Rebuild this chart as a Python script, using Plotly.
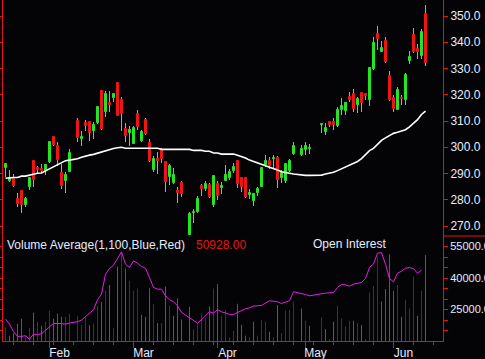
import plotly.graph_objects as go

# ---------------- data ----------------
opens = [
    292.2, 287.3, 287.9, 280.3, 283.3, 278.0, 284.9, 294.8, 292.1, 291.7,
    290.8, 294.5, 303.9, 300.6, 290.2, 287.1, 290.7, None, 310.0, 303.3,
    309.1, 309.6, 306.3, 309.2, 321.4, 313.5, 316.7, 318.9, 324.5, 318.0,
    306.8, 305.3, 301.4, 312.7, 302.4, 310.4, 301.5, 291.3, 295.5, 299.1,
    294.4, 288.8, 286.4, 283.3, 286.4, None, 266.6, 274.8, 275.2, 285.2,
    284.1, 285.5, 278.0, 286.0, 284.6, 287.3, 288.3, 290.8, 294.8, 288.3,
    288.3, 281.7, 279.6, 282.7, 285.0, 293.1, 294.8, 295.5, 295.9, 288.3,
    287.3, 291.1, 297.4, None, 297.1, 299.0, 299.2, None, None, 308.6,
    305.9, 309.6, 309.5, 308.1, 314.2, 313.8, 319.1, 320.2, 316.1, 320.6,
    320.2, 318.0, 329.8, 343.3, 336.4, 340.5, 327.1, 318.9, 314.2, 318.6,
    318.0, 332.9, 342.8, 337.3, 334.9, 350.8]
highs = [
    294.0, 291.3, 289.8, 282.5, 283.5, 281.0, 288.6, 295.0, 292.9, 293.6,
    293.6, 302.3, 304.3, 302.1, 293.6, 290.7, 299.2, None, 311.3, 306.2,
    310.4, 310.1, 309.7, 315.5, 322.0, 321.5, 321.5, 320.8, 324.8, 319.3,
    309.4, 308.1, 308.1, 314.2, 306.5, 311.3, 303.3, 296.7, 298.1, 299.8,
    294.6, 293.5, 292.0, 285.0, 287.1, None, 275.5, 276.5, 281.4, 286.0,
    287.3, 286.4, 289.4, 287.3, 286.9, 293.2, 291.6, 293.9, 295.0, 288.5,
    288.5, 284.0, 282.7, 284.7, 292.3, 297.0, 296.4, 297.0, 296.7, 291.3,
    294.0, 295.5, 302.1, None, 300.8, 302.1, 301.2, None, None, 309.4,
    309.1, 310.0, 311.0, 315.2, 318.6, 317.4, 321.2, 322.1, 319.3, 320.8,
    320.8, 330.7, 341.9, 346.2, 340.5, 341.9, 329.2, 319.9, 322.8, 319.9,
    328.4, 336.8, 345.3, 339.3, 344.9, 354.2]
lows = [
    288.5, 286.9, 284.8, 277.3, 275.1, 277.3, 283.7, 285.0, 290.1, 290.3,
    289.4, 294.0, 300.5, 292.9, 284.1, 282.4, 290.5, None, 302.1, 300.6,
    306.3, 302.5, 303.1, 308.8, 306.5, 311.6, 313.5, 317.4, 311.8, 306.3,
    302.1, 300.6, 301.2, 306.6, 302.0, 304.5, 294.5, 290.7, 289.8, 293.9,
    283.1, 285.6, 286.0, 278.6, 280.9, None, 266.4, 271.0, 275.0, 281.4,
    283.4, 280.6, 277.4, 279.9, 282.2, 287.0, 287.5, 290.3, 284.4, 283.1,
    280.6, 280.2, 277.6, 281.4, 284.7, 292.5, 291.6, 292.0, 284.4, 286.3,
    286.3, 290.5, 297.0, None, 296.7, 297.0, 297.4, None, None, 305.5,
    304.7, 307.8, 306.6, 307.8, 312.3, 312.3, 317.4, 313.5, 313.2, 313.4,
    318.0, 315.7, 329.4, 337.1, 336.2, 332.2, 317.6, 313.5, 314.2, 316.1,
    316.1, 331.7, 336.0, 333.5, 333.5, 331.1]
closes = [
    293.6, 288.2, 285.2, 278.5, 278.0, 280.3, 288.4, 287.6, 291.3, 290.8,
    293.2, 302.1, 300.9, 295.1, 285.3, 289.4, 297.9, None, 303.6, 304.0,
    308.2, 305.5, 308.5, 315.3, 307.0, 320.4, 316.2, 320.3, 312.0, 312.5,
    304.4, 306.6, 307.4, 307.6, 305.8, 305.0, 294.9, 295.5, 294.8, 295.6,
    286.9, 292.9, 289.4, 282.7, 282.3, None, 274.6, 275.2, 280.3, 284.1,
    286.0, 281.0, 289.0, 281.5, 285.2, 289.3, 290.7, 292.4, 286.0, 284.7,
    281.2, 282.5, 282.2, 284.1, 292.1, 294.8, 292.9, 295.9, 287.4, 290.2,
    293.5, 294.8, 300.5, None, 299.3, 300.6, 299.8, None, None, 308.8,
    307.4, 308.5, 308.5, 314.2, 315.7, 316.7, 318.0, 314.6, 318.3, 316.7,
    319.6, 330.1, 339.8, 341.2, 337.8, 332.6, 318.0, 314.6, 321.8, 318.4,
    327.5, 334.3, 336.4, 336.2, 344.0, 332.0]
moving_avg = [
    288.2, 288.4, 288.5, 288.5, 289.0, 289.0, 289.4, 289.9, 290.1, 290.2,
    291.0, 291.7, 292.5, 293.3, 294.4, 294.9, 295.1, None, 295.6, 296.2,
    296.7, 297.0, 297.3, 297.8, 298.1, 298.5, 299.0, 299.5, 299.8, 300.0,
    299.6, 299.6, 299.6, 299.6, 299.6, 299.6, 299.6, 299.6, 299.6, 299.2,
    299.2, 299.2, 299.2, 299.2, 299.2, None, 299.2, 298.8, 298.8, 298.8,
    298.5, 298.5, 297.8, 297.8, 297.4, 297.4, 297.4, 297.4, 297.0, 296.5,
    295.9, 295.1, 294.5, 294.1, 293.6, 293.0, 292.4, 291.7, 291.3, 290.7,
    290.5, 290.1, 289.8, None, 289.3, 289.3, 289.3, None, None, 289.4,
    289.8, 290.1, 290.5, 291.1, 291.8, 292.5, 293.0, 293.7, 294.6, 295.7,
    297.3, 298.7, 299.6, 301.2, 302.6, 303.6, 304.5, 305.3, 305.7, 306.2,
    306.7, 307.8, 309.2, 310.5, 312.5, 313.8]
volume = [
    16480, 12530, 13790, 18220, 20600, 12500, 16330, 23450, 19180, 17280,
    19180, 24400, 20600, 22970, 21550, 21550, 22970, None, 22020, 17590,
    21230, 17590, 18380, 26770, 28670, 33900, 36590, 16170, 45450, 52420,
    44500, 38650, 33900, 35000, 22500, 21550, 35160, 27560, 18540, 18540,
    35950, 26770, 22020, 30420, 20280, None, 26300, 15690, 18070, 22970,
    20920, 26460, 35000, 37060, 22020, 24870, 11740, 14900, 27720, 17750,
    12530, 11740, 19180, 12530, 20130, 19180, 14430, 11740, 27090, 13800,
    24400, 24870, 28670, None, 25510, 19650, 17280, None, None, 21230,
    15690, 10940, 19180, 26770, 20760, 16960, 19650, 19650, 18540, 17590,
    10940, 33110, 36270, 50200, 28830, 34690, 51310, 33900, 36750, 21550,
    29620, 25510, 40700, 22020, 33900, 50928]
open_interest = [
    20440, 18070, 14430, 12210, 12210, 12530, 10780, 13320, 13000, 13480,
    15060, 16960, 18380, 18380, 18070, 18070, 18540, None, 19170, 19970,
    21710, 23130, 24870, 29620, 32320, 41800, 44500, 46090, 48940, 52420,
    46560, 44980, 48150, 47040, 45450, 44660, 40230, 35480, 34690, 34690,
    31520, 29620, 28670, 26770, 23610, None, 21230, 19650, 18540, 20130,
    22020, 23920, 23290, 24870, 23920, 23290, 22660, 22660, 23610, 24400,
    25350, 25820, 26620, 26770, 26930, 28040, 29150, 28990, 28670, 27880,
    28670, 29150, 33420, None, 32790, 32160, 31520, None, None, 32630,
    32790, 32950, 33110, 35480, 36910, 36750, 36110, 37060, 37540, 37850,
    39750, 44980, 46720, 51790, 52100, 46560, 39750, 38170, 42290, 43240,
    44660, 44980, 44500, 42290, 43710, None]

month_labels = ["Feb", "Mar", "Apr", "May", "Jun"]
month_index = [11, 32, 53, 75, 97]
price_ticks = [270, 280, 290, 300, 310, 320, 330, 340, 350]
vol_ticks = [15000, 20000, 25000, 30000, 35000, 40000, 45000, 50000, 55000]
vol_labelled = [25000, 40000, 55000]

# ---------------- styles ----------------
BG = "#040406"
AXIS = "#e81010"
TXT = "#e4ecff"
GREEN = "#22e622"
RED = "#f01414"
WICK = "#a8a8a8"
VBLUE = "#2020e6"
VRED = "#e81c1c"
FONT = "Liberation Sans, Arial, sans-serif"
PRICE_RANGE = [266.2, 356.1]
VOL_RANGE = [10000, 60000]

n = len(closes)
xs = list(range(n))

# derived drawing helpers (from data)
wick_x, wick_base, wick_len = [], [], []
body_x, body_base, body_len, body_col = [], [], [], []
up_x, up_y, dn_x, dn_y = [], [], [], []
prev_close = None
for i in xs:
    o, h, l, c, v = opens[i], highs[i], lows[i], closes[i], volume[i]
    if c is None:
        continue
    wick_x.append(i)
    wick_base.append(l)
    wick_len.append(h - l)
    body_x.append(i)
    body_base.append(min(o, c))
    body_len.append(abs(c - o))
    body_col.append(GREEN if c >= o else RED)
    ref = prev_close if prev_close is not None else o
    if c > ref:
        up_x += [i, i, None]
        up_y += [VOL_RANGE[0], v, None]
    else:
        dn_x += [i, i, None]
        dn_y += [VOL_RANGE[0], v, None]
    prev_close = c

fig = go.Figure()

fig.add_trace(go.Bar(x=wick_x, y=wick_len, base=wick_base, width=0.2,
                     marker=dict(color=WICK, line=dict(width=0)),
                     xaxis="x", yaxis="y", hoverinfo="skip"))
fig.add_trace(go.Bar(x=body_x, y=body_len, base=body_base, width=0.5,
                     marker=dict(color=body_col, line=dict(color=body_col, width=1)),
                     xaxis="x", yaxis="y", hoverinfo="skip"))
fig.add_trace(go.Scatter(x=xs, y=moving_avg, mode="lines", connectgaps=True,
                         line=dict(color="#ffffff", width=1.6),
                         xaxis="x", yaxis="y", hoverinfo="skip"))
fig.add_trace(go.Scatter(x=up_x, y=up_y, mode="lines", connectgaps=False,
                         line=dict(color=VBLUE, width=1),
                         xaxis="x2", yaxis="y2", hoverinfo="skip"))
fig.add_trace(go.Scatter(x=dn_x, y=dn_y, mode="lines", connectgaps=False,
                         line=dict(color=VRED, width=1),
                         xaxis="x2", yaxis="y2", hoverinfo="skip"))
fig.add_trace(go.Scatter(x=xs, y=open_interest, mode="lines", connectgaps=True,
                         line=dict(color="#e61ee6", width=1),
                         xaxis="x2", yaxis="y2", hoverinfo="skip"))

split = (341 - 236) / 341.0
xr = [-0.625, 109.375]

fig.update_layout(
    template="none",
    width=485, height=359,
    margin=dict(l=3, r=42, t=0, b=18, autoexpand=False),
    paper_bgcolor=BG, plot_bgcolor=BG,
    showlegend=False, barmode="overlay", bargap=0,
    xaxis=dict(domain=[0, 1], anchor="y", range=xr, showticklabels=False,
               showline=False, showgrid=False, zeroline=False, ticks="",
               automargin=False),
    yaxis=dict(domain=[split, 1], anchor="x", side="right", range=PRICE_RANGE,
               tickvals=price_ticks, ticktext=[f"{v:.1f}" for v in price_ticks],
               ticks="outside", ticklen=4, tickcolor=AXIS, tickwidth=1,
               showline=True, linecolor=AXIS, linewidth=1, mirror="ticks",
               showgrid=False, zeroline=False, automargin=False,
               tickfont=dict(family=FONT, size=12, color=TXT)),
    xaxis2=dict(domain=[0, 1], anchor="y2", range=xr, matches="x",
                tickvals=month_index, ticktext=month_labels,
                ticks="outside", ticklen=6, tickcolor=AXIS, tickwidth=1,
                ticklabelshift=10, ticklabelstandoff=-5,
                minor=dict(ticks="outside", ticklen=3, tick0=2, dtick=5,
                           tickcolor=AXIS, tickwidth=1),
                showline=True, linecolor=AXIS, linewidth=1,
                showgrid=False, zeroline=False, automargin=False,
                tickfont=dict(family=FONT, size=12, color=TXT)),
    yaxis2=dict(domain=[0, split], anchor="x2", side="right", range=VOL_RANGE,
                tickvals=vol_ticks,
                ticktext=[f"{v:.1f}" if v in vol_labelled else "" for v in vol_ticks],
                ticks="outside", ticklen=4, tickcolor=AXIS, tickwidth=1,
                showline=True, linecolor=AXIS, linewidth=1, mirror="ticks",
                showgrid=False, zeroline=False, automargin=False,
                tickfont=dict(family=FONT, size=11, color=TXT)),
    shapes=[dict(type="line", xref="paper", yref="paper", x0=1, x1=1.1,
                 y0=split, y1=split, line=dict(color=AXIS, width=1))],
    annotations=[
        dict(text="Volume Average(1,100,Blue,Red)", xref="paper", yref="paper",
             x=0.0045, y=(341 - 245) / 341.0, xanchor="left", yanchor="middle",
             showarrow=False, font=dict(family=FONT, size=12, color=TXT)),
        dict(text=f"{volume[-1]:.2f}", xref="paper", yref="paper",
             x=(194 - 3) / 440.0, y=(341 - 245) / 341.0, xanchor="left", yanchor="middle",
             showarrow=False, font=dict(family=FONT, size=12, color="#e81414")),
        dict(text="Open Interest", xref="paper", yref="paper",
             x=(349.5 - 3) / 440.0, y=(341 - 244) / 341.0, xanchor="center", yanchor="middle",
             showarrow=False, font=dict(family=FONT, size=12, color=TXT)),
    ],
)

fig.write_html(
    "out.html",
    config={"displayModeBar": False},
    post_script="document.body.style.margin='0';document.body.style.overflow='hidden';"
                "document.body.style.background='" + BG + "';",
)
